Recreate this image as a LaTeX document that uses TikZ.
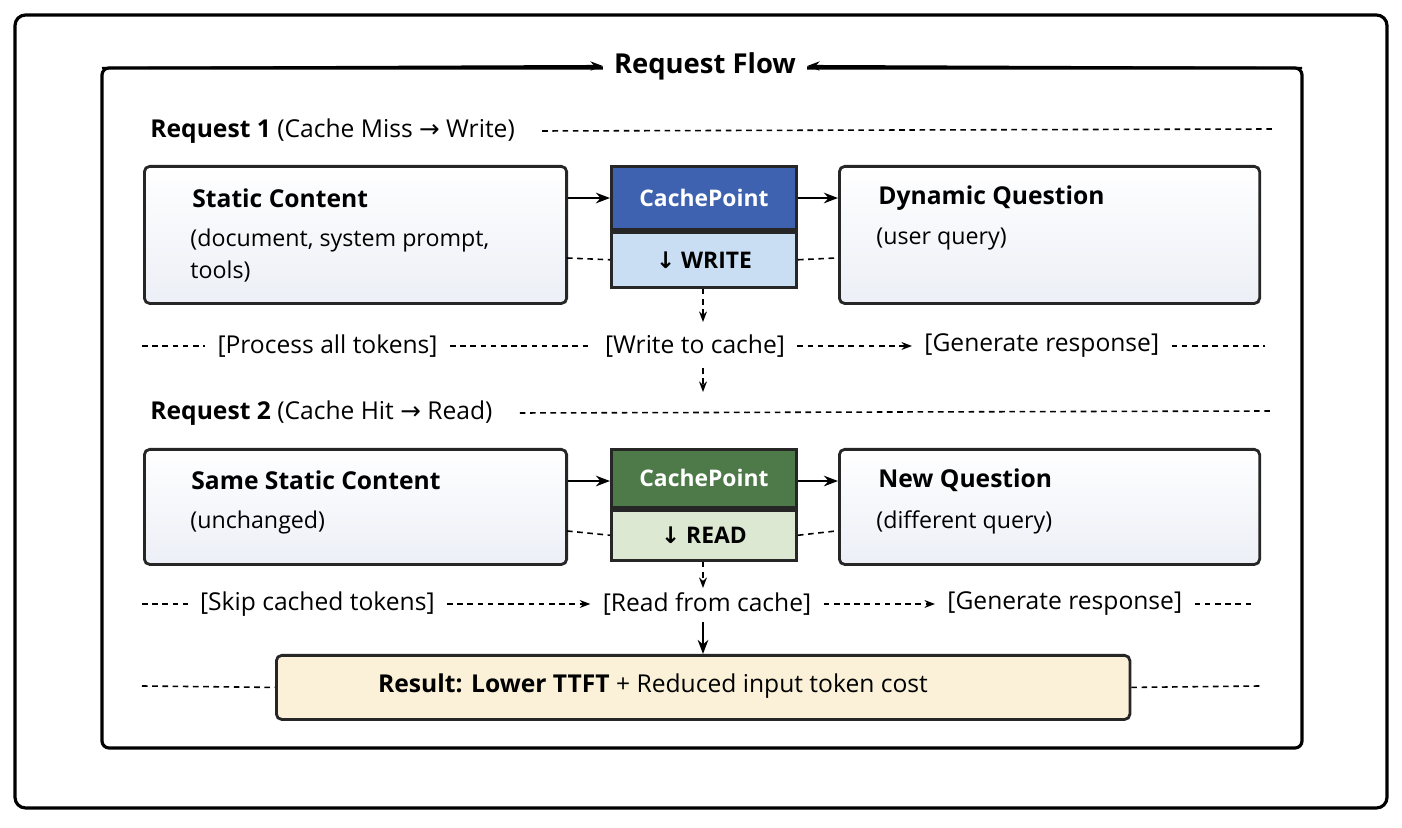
\documentclass[tikz,border=0pt]{standalone}
\usepackage{fontspec}
\setmainfont{Open Sans}
\newfontfamily\sym{DejaVu Sans}
\usetikzlibrary{positioning,arrows.meta}
\definecolor{wbg}{HTML}{ECEFF6}
\definecolor{blueh}{HTML}{3F62B0}
\definecolor{bluel}{HTML}{C9DEF3}
\definecolor{greenh}{HTML}{4E7A4A}
\definecolor{greenl}{HTML}{DCE8D2}
\definecolor{yel}{HTML}{FAF1D8}
\begin{document}
\begin{tikzpicture}[x=0.01cm,y=-0.01cm,
    panel/.style={draw=black!85, line width=0.8pt, rounded corners=1.5pt,
      top color=white, bottom color=wbg},
    head/.style={font=\fontsize{7}{9}\selectfont\bfseries, anchor=west},
    sub/.style={font=\fontsize{6.6}{9.2}\selectfont, anchor=north west, align=left},
    cphead/.style={draw=black!85, line width=0.8pt, font=\fontsize{6.5}{8}\selectfont\bfseries, text=white, inner sep=0pt},
    cpfoot/.style={draw=black!85, line width=0.8pt, font=\fontsize{6.5}{8}\selectfont\bfseries, inner sep=0pt},
    row/.style={font=\fontsize{7}{9}\selectfont},
    dline/.style={line width=0.45pt, dash pattern=on 1.6pt off 1.3pt},
    darr/.style={dline, -{Stealth[length=3pt]}},
    sarr/.style={line width=0.7pt, -{Stealth[length=4pt]}}
  ]
  \useasboundingbox (0,0) rectangle (1402,828);
  \draw[line width=0.9pt, rounded corners=3pt] (15,15) rectangle (1387,808);
  \draw[line width=0.9pt, rounded corners=2pt] (102,68) rectangle (1302,748);

  % titre
  \node[fill=white, inner xsep=3pt, font=\fontsize{7.8}{10}\selectfont\bfseries] (title) at (705,66) {Request Flow};
  \coordinate (tl) at (102,68);
  \coordinate (tr) at (1302,68);
  \draw[line width=0.6pt, -{Stealth[length=3.5pt]}] (tl) -- (title.west);
  \draw[line width=0.6pt, -{Stealth[length=3.5pt]}] (tr) -- (title.east);

  % requete 1
  \node[anchor=west, font=\fontsize{7}{9}\selectfont] (r1) at (138,131)
    {\textbf{Request 1} (Cache Miss {\sym→} Write)};
  \coordinate (r1e) at (1275,129);
  \draw[dline] ([xshift=0.15cm]r1.east) -- (r1e);

  \node[panel, minimum width=4.22cm, minimum height=1.37cm, anchor=north west] (stat) at (143,165) {};
  \node[head] at (180,198) {Static Content};
  \node[sub] at (178,216) {(document, system prompt,\\tools)};
  \node[panel, minimum width=4.20cm, minimum height=1.37cm, anchor=north west] (dyn) at (838,165) {};
  \node[head] at (866,198) {Dynamic Question};
  \node[sub] at (864,216) {(user query)};
  \node[cphead, fill=blueh, minimum width=1.85cm, minimum height=0.63cm, anchor=north west] (cp1) at (610,165) {CachePoint};
  \node[cpfoot, fill=bluel, minimum width=1.85cm, minimum height=0.55cm, anchor=north] (w1) at (cp1.south) {{\sym↓} WRITE};
  \draw[sarr] ([yshift=-0.33cm]stat.north east) -- ([yshift=-0.33cm]cp1.north west);
  \draw[sarr] ([yshift=-0.33cm]cp1.north east) -- ([yshift=-0.33cm]dyn.north west);
  \draw[dline] (567,258) -- (w1.west);
  \draw[dline] (w1.east) -- (836,258);

  \node[row] (p1) at (695,346) {[Write to cache]};
  \node[row, anchor=east] (p0) at (450,346) {[Process all tokens]};
  \node[row, anchor=west] (p2) at (912,346) {[Generate response]};
  \coordinate (a1) at (142,346); \coordinate (b1) at (1265,346);
  \draw[dline] (a1) -- (p0.west);
  \draw[dline] (p0.east) -- (p1.west);
  \draw[darr] (p1.east) -- (p2.west);
  \draw[dline] (p2.east) -- (b1);
  \coordinate (w1b) at (703,322);
  \draw[darr] (w1.south -| w1b) -- (w1b);
  \coordinate (r2a) at (703,368); \coordinate (r2t) at (703,392);
  \draw[darr] (r2a) -- (r2t);

  % requete 2
  \node[anchor=west, font=\fontsize{7}{9}\selectfont] (r2) at (138,413)
    {\textbf{Request 2} (Cache Hit {\sym→} Read)};
  \coordinate (r2e) at (1272,411);
  \draw[dline] ([xshift=0.15cm]r2.east) -- (r2e);

  \node[panel, minimum width=4.22cm, minimum height=1.15cm, anchor=north west] (same) at (143,448) {};
  \node[head] at (179,480) {Same Static Content};
  \node[sub] at (178,498) {(unchanged)};
  \node[panel, minimum width=4.20cm, minimum height=1.15cm, anchor=north west] (newq) at (838,448) {};
  \node[head] at (866,480) {New Question};
  \node[sub] at (864,498) {(different query)};
  \node[cphead, fill=greenh, minimum width=1.85cm, minimum height=0.58cm, anchor=north west] (cp2) at (610,448) {CachePoint};
  \node[cpfoot, fill=greenl, minimum width=1.85cm, minimum height=0.50cm, anchor=north] (rd) at (cp2.south) {{\sym↓} READ};
  \draw[sarr] ([yshift=-0.33cm]same.north east) -- ([yshift=-0.33cm]cp2.north west);
  \draw[sarr] ([yshift=-0.33cm]cp2.north east) -- ([yshift=-0.33cm]newq.north west);
  \draw[dline] (567,531) -- (rd.west);
  \draw[dline] (rd.east) -- (836,531);

  \node[row] (q1) at (707,604) {[Read from cache]};
  \node[row, anchor=east] (q0) at (447,604) {[Skip cached tokens]};
  \node[row, anchor=west] (q2) at (935,604) {[Generate response]};
  \coordinate (a2) at (142,604); \coordinate (b2) at (1255,604);
  \draw[dline] (a2) -- (q0.west);
  \draw[darr] (q0.east) -- (q1.west);
  \draw[darr] (q1.east) -- (q2.west);
  \draw[dline] (q2.east) -- (b2);
  \coordinate (rdb) at (703,588);
  \draw[darr] (rd.south -| rdb) -- (rdb);

  % resultat
  \node[draw=black!85, line width=0.8pt, rounded corners=1.5pt, fill=yel,
    minimum width=8.53cm, minimum height=0.64cm, anchor=north west] (res) at (275,654) {};
  \node[font=\fontsize{7}{9}\selectfont] at (653,686) {\textbf{Result: Lower TTFT} + Reduced input token cost};
  \coordinate (q1s) at (703,622);
  \draw[sarr] (q1s) -- (res.north -| q1s);
  \coordinate (a3) at (142,686); \coordinate (b3) at (1260,686);
  \draw[dline] (a3) -- (res.west);
  \draw[dline] (res.east) -- (b3);
\end{tikzpicture}
\end{document}
